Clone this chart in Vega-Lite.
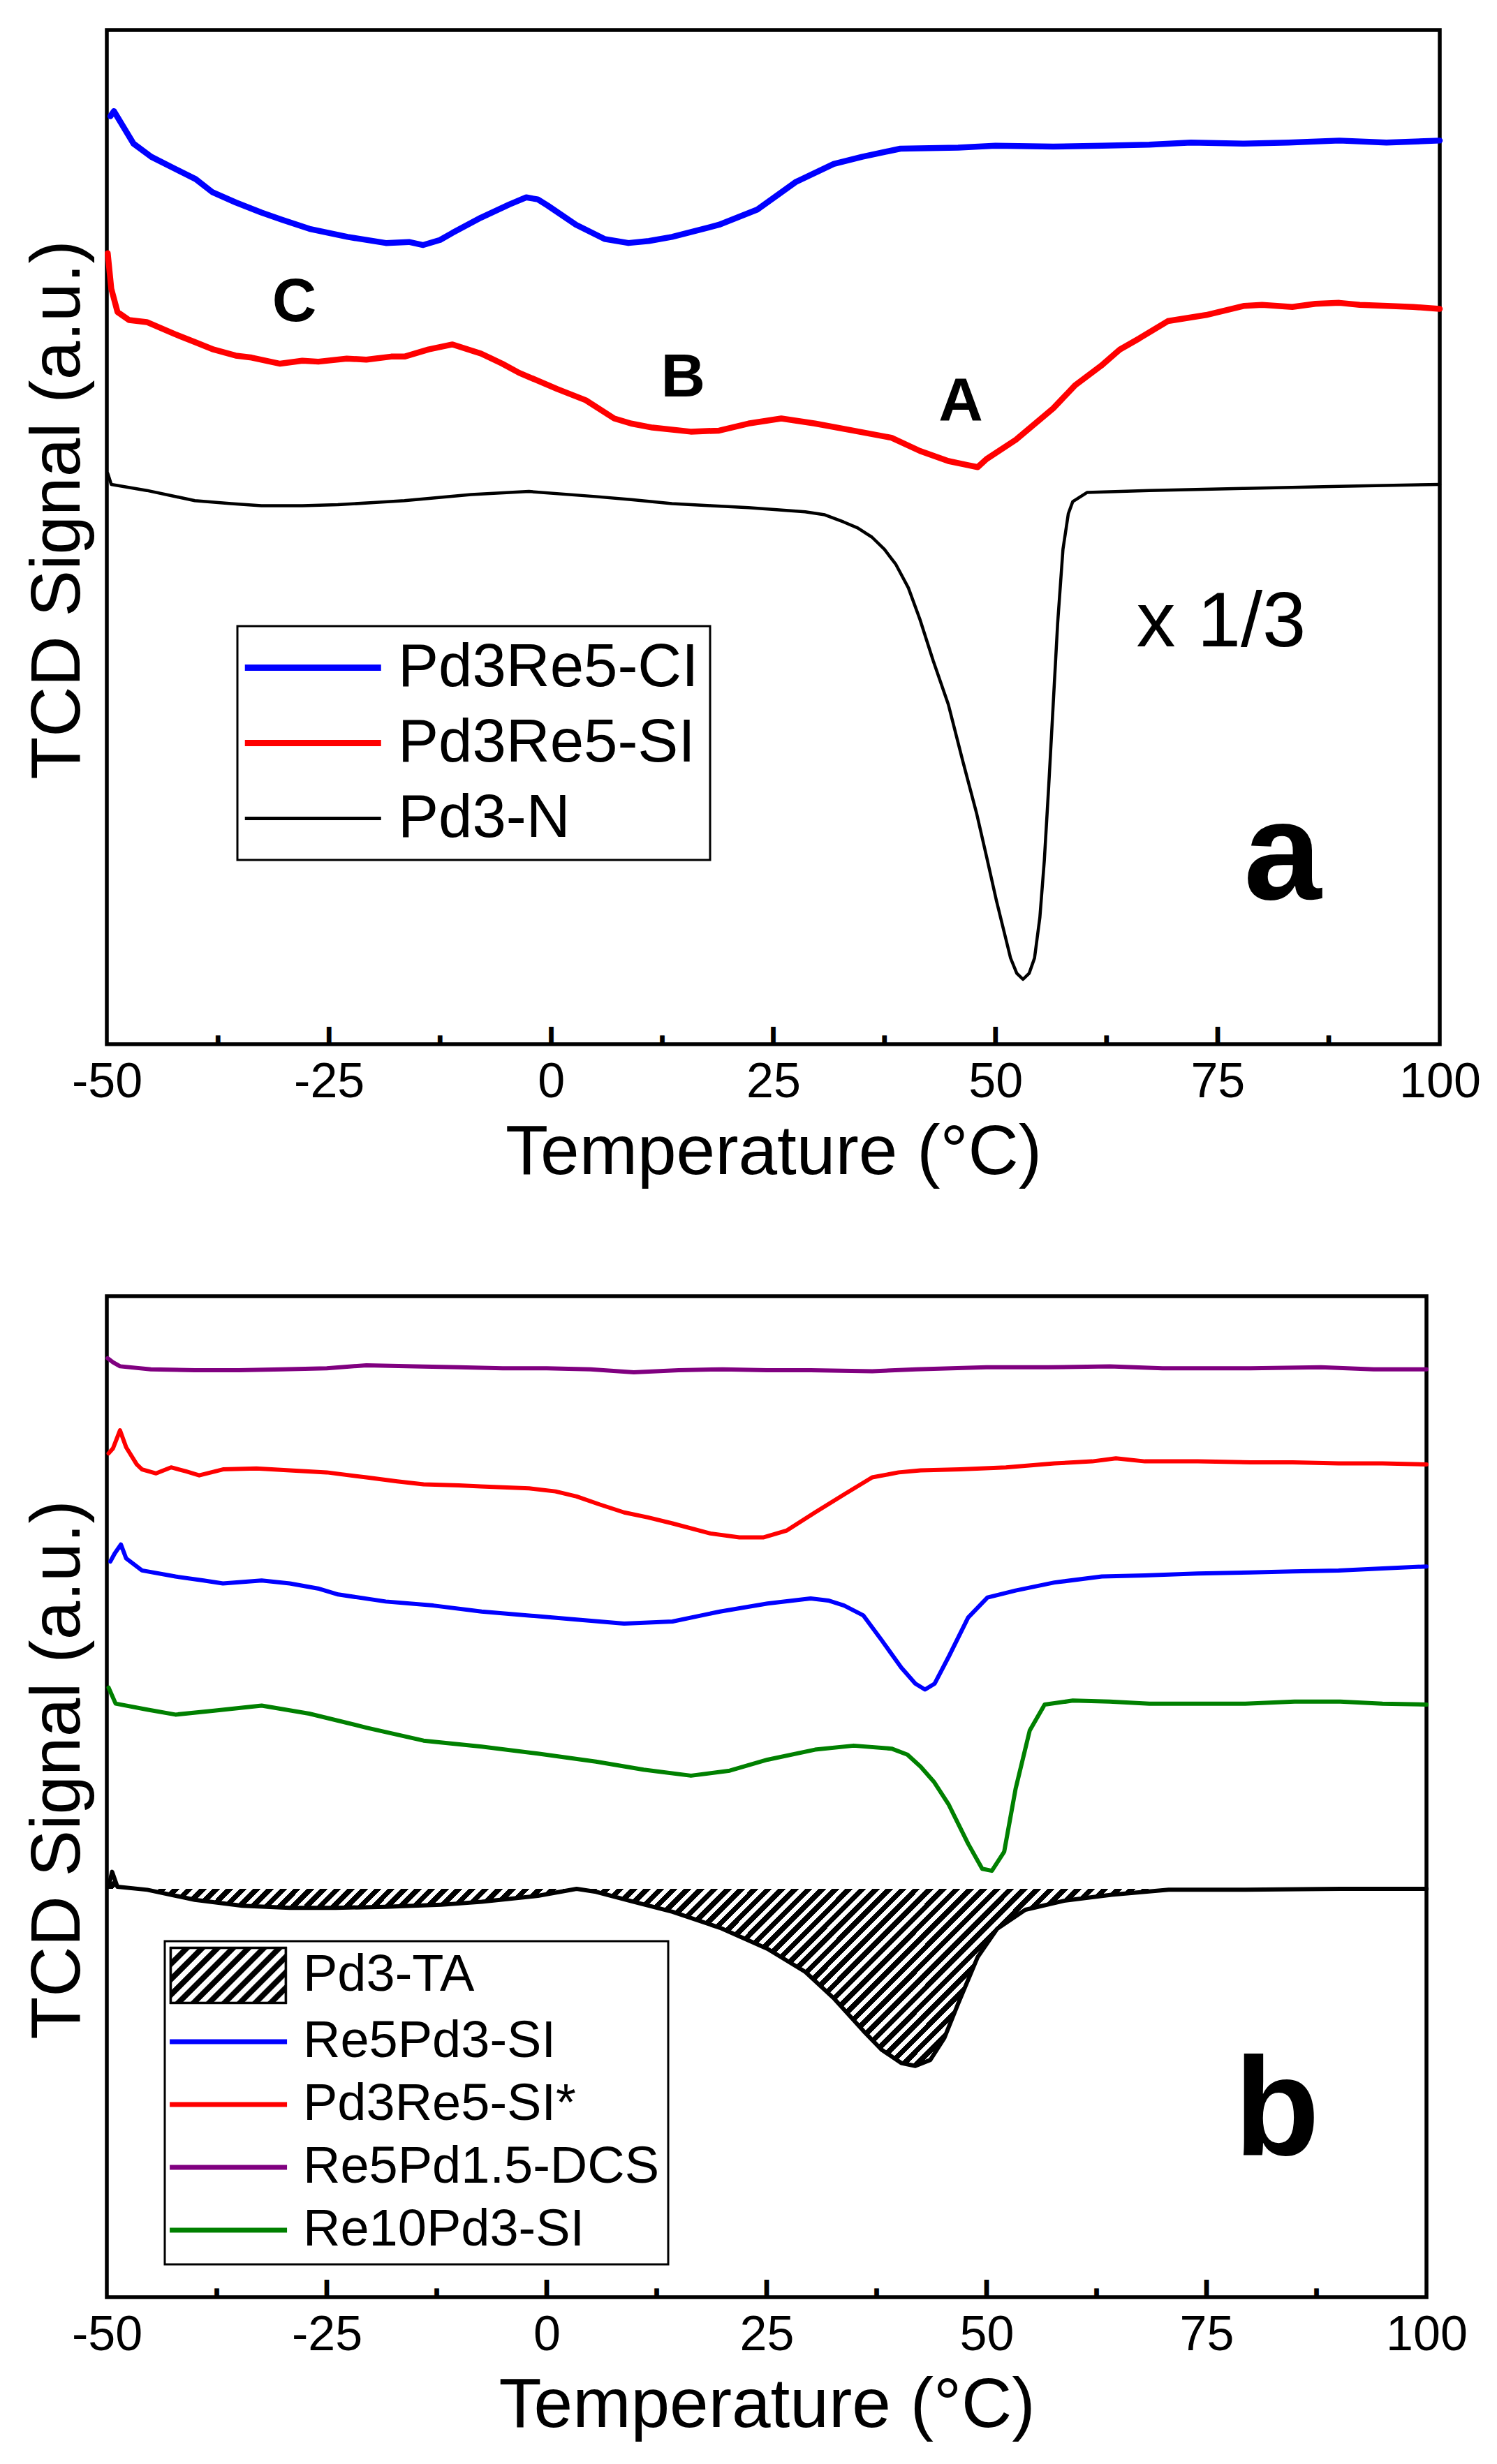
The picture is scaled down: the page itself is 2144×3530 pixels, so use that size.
{
  "$schema": "https://vega.github.io/schema/vega-lite/v6.json",
  "background": "white",
  "padding": {"left": 30, "top": 40, "right": 10, "bottom": 10},
  "config": {
    "font": "Liberation Sans",
    "view": {"stroke": "black", "strokeWidth": 5.5},
    "axis": {"labelFont": "Liberation Sans", "titleFont": "Liberation Sans", "labelColor": "black", "titleColor": "black", "titleFontWeight": "normal", "grid": false, "tickColor": "black"},
    "legend": {"labelFont": "Liberation Sans", "labelColor": "black"},
    "text": {"font": "Liberation Sans", "color": "black"}
  },
  "spacing": 150,
  "resolve": {"scale": {"color": "independent", "x": "independent", "y": "independent"}},
  "datasets": {
    "a_lines": [
      {"series":"Pd3Re5-CI","T":-49.6,"v":91.5},{"series":"Pd3Re5-CI","T":-49.2,"v":92.0},{"series":"Pd3Re5-CI","T":-48.1,"v":90.4},{"series":"Pd3Re5-CI","T":-47.0,"v":88.8},{"series":"Pd3Re5-CI","T":-45.0,"v":87.5},{"series":"Pd3Re5-CI","T":-42.3,"v":86.3},{"series":"Pd3Re5-CI","T":-40.0,"v":85.3},{"series":"Pd3Re5-CI","T":-38.1,"v":84.0},{"series":"Pd3Re5-CI","T":-35.5,"v":83.0},{"series":"Pd3Re5-CI","T":-32.6,"v":82.0},{"series":"Pd3Re5-CI","T":-30.3,"v":81.3},{"series":"Pd3Re5-CI","T":-27.2,"v":80.4},{"series":"Pd3Re5-CI","T":-22.9,"v":79.6},{"series":"Pd3Re5-CI","T":-18.6,"v":79.0},{"series":"Pd3Re5-CI","T":-16.0,"v":79.1},{"series":"Pd3Re5-CI","T":-14.4,"v":78.8},{"series":"Pd3Re5-CI","T":-12.5,"v":79.3},{"series":"Pd3Re5-CI","T":-11.1,"v":80.0},{"series":"Pd3Re5-CI","T":-7.9,"v":81.5},{"series":"Pd3Re5-CI","T":-4.7,"v":82.8},{"series":"Pd3Re5-CI","T":-2.8,"v":83.5},{"series":"Pd3Re5-CI","T":-1.5,"v":83.3},{"series":"Pd3Re5-CI","T":-0.4,"v":82.7},{"series":"Pd3Re5-CI","T":2.8,"v":80.8},{"series":"Pd3Re5-CI","T":6.0,"v":79.4},{"series":"Pd3Re5-CI","T":8.7,"v":79.0},{"series":"Pd3Re5-CI","T":11.0,"v":79.2},{"series":"Pd3Re5-CI","T":13.6,"v":79.6},{"series":"Pd3Re5-CI","T":18.9,"v":80.8},{"series":"Pd3Re5-CI","T":23.2,"v":82.3},{"series":"Pd3Re5-CI","T":27.5,"v":85.0},{"series":"Pd3Re5-CI","T":31.8,"v":86.8},{"series":"Pd3Re5-CI","T":35.0,"v":87.5},{"series":"Pd3Re5-CI","T":39.3,"v":88.3},{"series":"Pd3Re5-CI","T":45.8,"v":88.4},{"series":"Pd3Re5-CI","T":50.0,"v":88.6},{"series":"Pd3Re5-CI","T":56.5,"v":88.5},{"series":"Pd3Re5-CI","T":62.0,"v":88.6},{"series":"Pd3Re5-CI","T":67.3,"v":88.7},{"series":"Pd3Re5-CI","T":72.0,"v":88.9},{"series":"Pd3Re5-CI","T":78.0,"v":88.8},{"series":"Pd3Re5-CI","T":83.0,"v":88.9},{"series":"Pd3Re5-CI","T":88.7,"v":89.1},{"series":"Pd3Re5-CI","T":94.0,"v":88.9},{"series":"Pd3Re5-CI","T":100.0,"v":89.1},
      {"series":"Pd3Re5-SI","T":-49.9,"v":78.0},{"series":"Pd3Re5-SI","T":-49.5,"v":74.5},{"series":"Pd3Re5-SI","T":-48.8,"v":72.2},{"series":"Pd3Re5-SI","T":-47.5,"v":71.4},{"series":"Pd3Re5-SI","T":-45.5,"v":71.2},{"series":"Pd3Re5-SI","T":-42.3,"v":70.0},{"series":"Pd3Re5-SI","T":-40.0,"v":69.2},{"series":"Pd3Re5-SI","T":-38.0,"v":68.5},{"series":"Pd3Re5-SI","T":-35.5,"v":67.9},{"series":"Pd3Re5-SI","T":-33.7,"v":67.7},{"series":"Pd3Re5-SI","T":-30.5,"v":67.1},{"series":"Pd3Re5-SI","T":-28.0,"v":67.4},{"series":"Pd3Re5-SI","T":-26.2,"v":67.3},{"series":"Pd3Re5-SI","T":-23.0,"v":67.6},{"series":"Pd3Re5-SI","T":-20.8,"v":67.5},{"series":"Pd3Re5-SI","T":-18.0,"v":67.8},{"series":"Pd3Re5-SI","T":-16.5,"v":67.8},{"series":"Pd3Re5-SI","T":-13.8,"v":68.5},{"series":"Pd3Re5-SI","T":-11.1,"v":69.0},{"series":"Pd3Re5-SI","T":-7.9,"v":68.1},{"series":"Pd3Re5-SI","T":-5.5,"v":67.1},{"series":"Pd3Re5-SI","T":-3.6,"v":66.2},{"series":"Pd3Re5-SI","T":0.7,"v":64.6},{"series":"Pd3Re5-SI","T":3.9,"v":63.5},{"series":"Pd3Re5-SI","T":7.1,"v":61.7},{"series":"Pd3Re5-SI","T":9.0,"v":61.2},{"series":"Pd3Re5-SI","T":11.4,"v":60.8},{"series":"Pd3Re5-SI","T":15.7,"v":60.4},{"series":"Pd3Re5-SI","T":18.9,"v":60.5},{"series":"Pd3Re5-SI","T":22.2,"v":61.2},{"series":"Pd3Re5-SI","T":25.9,"v":61.7},{"series":"Pd3Re5-SI","T":29.7,"v":61.2},{"series":"Pd3Re5-SI","T":34.0,"v":60.5},{"series":"Pd3Re5-SI","T":38.3,"v":59.8},{"series":"Pd3Re5-SI","T":41.5,"v":58.5},{"series":"Pd3Re5-SI","T":44.7,"v":57.5},{"series":"Pd3Re5-SI","T":46.9,"v":57.1},{"series":"Pd3Re5-SI","T":48.0,"v":56.9},{"series":"Pd3Re5-SI","T":49.0,"v":57.7},{"series":"Pd3Re5-SI","T":52.3,"v":59.6},{"series":"Pd3Re5-SI","T":56.5,"v":62.7},{"series":"Pd3Re5-SI","T":59.0,"v":65.0},{"series":"Pd3Re5-SI","T":61.9,"v":66.9},{"series":"Pd3Re5-SI","T":64.0,"v":68.5},{"series":"Pd3Re5-SI","T":66.2,"v":69.6},{"series":"Pd3Re5-SI","T":69.4,"v":71.3},{"series":"Pd3Re5-SI","T":73.7,"v":71.9},{"series":"Pd3Re5-SI","T":78.0,"v":72.8},{"series":"Pd3Re5-SI","T":80.0,"v":72.9},{"series":"Pd3Re5-SI","T":83.4,"v":72.7},{"series":"Pd3Re5-SI","T":86.0,"v":73.0},{"series":"Pd3Re5-SI","T":88.7,"v":73.1},{"series":"Pd3Re5-SI","T":91.0,"v":72.9},{"series":"Pd3Re5-SI","T":94.1,"v":72.8},{"series":"Pd3Re5-SI","T":97.0,"v":72.7},{"series":"Pd3Re5-SI","T":100.0,"v":72.5},
      {"series":"Pd3-N","T":-49.9,"v":56.3},{"series":"Pd3-N","T":-49.5,"v":55.2},{"series":"Pd3-N","T":-45.5,"v":54.6},{"series":"Pd3-N","T":-40.1,"v":53.6},{"series":"Pd3-N","T":-36.0,"v":53.3},{"series":"Pd3-N","T":-32.6,"v":53.1},{"series":"Pd3-N","T":-28.0,"v":53.1},{"series":"Pd3-N","T":-24.0,"v":53.2},{"series":"Pd3-N","T":-20.0,"v":53.4},{"series":"Pd3-N","T":-16.5,"v":53.6},{"series":"Pd3-N","T":-9.0,"v":54.2},{"series":"Pd3-N","T":-2.5,"v":54.5},{"series":"Pd3-N","T":5.0,"v":54.0},{"series":"Pd3-N","T":9.0,"v":53.7},{"series":"Pd3-N","T":13.6,"v":53.3},{"series":"Pd3-N","T":18.0,"v":53.1},{"series":"Pd3-N","T":22.2,"v":52.9},{"series":"Pd3-N","T":28.6,"v":52.5},{"series":"Pd3-N","T":30.8,"v":52.2},{"series":"Pd3-N","T":32.9,"v":51.5},{"series":"Pd3-N","T":34.5,"v":50.9},{"series":"Pd3-N","T":36.1,"v":50.0},{"series":"Pd3-N","T":37.5,"v":48.8},{"series":"Pd3-N","T":38.8,"v":47.3},{"series":"Pd3-N","T":40.2,"v":45.0},{"series":"Pd3-N","T":41.5,"v":41.9},{"series":"Pd3-N","T":43.0,"v":37.8},{"series":"Pd3-N","T":44.7,"v":33.5},{"series":"Pd3-N","T":46.3,"v":28.0},{"series":"Pd3-N","T":47.9,"v":22.7},{"series":"Pd3-N","T":49.0,"v":18.5},{"series":"Pd3-N","T":50.1,"v":14.2},{"series":"Pd3-N","T":51.0,"v":11.0},{"series":"Pd3-N","T":51.7,"v":8.5},{"series":"Pd3-N","T":52.4,"v":7.0},{"series":"Pd3-N","T":53.1,"v":6.4},{"series":"Pd3-N","T":53.8,"v":7.0},{"series":"Pd3-N","T":54.4,"v":8.5},{"series":"Pd3-N","T":55.0,"v":12.5},{"series":"Pd3-N","T":55.5,"v":18.1},{"series":"Pd3-N","T":56.0,"v":25.5},{"series":"Pd3-N","T":56.5,"v":33.5},{"series":"Pd3-N","T":57.0,"v":41.5},{"series":"Pd3-N","T":57.6,"v":48.8},{"series":"Pd3-N","T":58.2,"v":52.3},{"series":"Pd3-N","T":58.7,"v":53.5},{"series":"Pd3-N","T":60.3,"v":54.4},{"series":"Pd3-N","T":67.3,"v":54.6},{"series":"Pd3-N","T":78.0,"v":54.8},{"series":"Pd3-N","T":88.7,"v":55.0},{"series":"Pd3-N","T":100.0,"v":55.2}
    ],
    "a_peaks": [{"T":-28.9,"v":71.3,"label":"C"},{"T":14.85,"v":63.9,"label":"B"},{"T":46.1,"v":61.5,"label":"A"}],
    "a_scale": [{"T":75.4,"v":39.2,"label":"x 1/3"}],
    "a_tag": [{"T":82.3,"v":14.3,"label":"a"}],
    "axis_major": [{"T":-25,"v":0},{"T":0,"v":0},{"T":25,"v":0},{"T":50,"v":0},{"T":75,"v":0}],
    "axis_minor": [{"T":-37.5,"v":0},{"T":-12.5,"v":0},{"T":12.5,"v":0},{"T":37.5,"v":0},{"T":62.5,"v":0},{"T":87.5,"v":0}],
    "b_area": [
      {"T":-49.8,"v":41.0,"base":40.8},{"T":-49.4,"v":42.5,"base":40.8},{"T":-48.8,"v":41.0,"base":40.8},{"T":-45.4,"v":40.7,"base":40.8},{"T":-40.0,"v":39.7,"base":40.8},{"T":-34.6,"v":39.1,"base":40.8},{"T":-29.2,"v":38.9,"base":40.8},{"T":-24.0,"v":38.9,"base":40.8},{"T":-18.3,"v":39.0,"base":40.8},{"T":-12.0,"v":39.2,"base":40.8},{"T":-7.4,"v":39.5,"base":40.8},{"T":-1.0,"v":40.1,"base":40.8},{"T":3.4,"v":40.8,"base":40.8},{"T":5.6,"v":40.5,"base":40.8},{"T":9.9,"v":39.5,"base":40.8},{"T":14.3,"v":38.5,"base":40.8},{"T":19.7,"v":36.9,"base":40.8},{"T":25.1,"v":34.8,"base":40.8},{"T":29.4,"v":32.5,"base":40.8},{"T":32.7,"v":29.8,"base":40.8},{"T":36.0,"v":26.6,"base":40.8},{"T":38.1,"v":24.7,"base":40.8},{"T":40.3,"v":23.4,"base":40.8},{"T":41.9,"v":23.1,"base":40.8},{"T":43.6,"v":23.7,"base":40.8},{"T":45.2,"v":25.9,"base":40.8},{"T":46.8,"v":29.4,"base":40.8},{"T":49.0,"v":34.0,"base":40.8},{"T":51.2,"v":36.8,"base":40.8},{"T":54.4,"v":38.7,"base":40.8},{"T":58.8,"v":39.6,"base":40.8},{"T":64.2,"v":40.2,"base":40.8},{"T":70.7,"v":40.7,"base":40.8},{"T":79.4,"v":40.7,"base":40.8},{"T":90.2,"v":40.8,"base":40.8},{"T":100.0,"v":40.8,"base":40.8}
    ],
    "b_lines": [
      {"series":"Pd3-TA","T":-49.8,"v":41.0},{"series":"Pd3-TA","T":-49.4,"v":42.5},{"series":"Pd3-TA","T":-48.8,"v":41.0},{"series":"Pd3-TA","T":-45.4,"v":40.7},{"series":"Pd3-TA","T":-40.0,"v":39.7},{"series":"Pd3-TA","T":-34.6,"v":39.1},{"series":"Pd3-TA","T":-29.2,"v":38.9},{"series":"Pd3-TA","T":-24.0,"v":38.9},{"series":"Pd3-TA","T":-18.3,"v":39.0},{"series":"Pd3-TA","T":-12.0,"v":39.2},{"series":"Pd3-TA","T":-7.4,"v":39.5},{"series":"Pd3-TA","T":-1.0,"v":40.1},{"series":"Pd3-TA","T":3.4,"v":40.8},{"series":"Pd3-TA","T":5.6,"v":40.5},{"series":"Pd3-TA","T":9.9,"v":39.5},{"series":"Pd3-TA","T":14.3,"v":38.5},{"series":"Pd3-TA","T":19.7,"v":36.9},{"series":"Pd3-TA","T":25.1,"v":34.8},{"series":"Pd3-TA","T":29.4,"v":32.5},{"series":"Pd3-TA","T":32.7,"v":29.8},{"series":"Pd3-TA","T":36.0,"v":26.6},{"series":"Pd3-TA","T":38.1,"v":24.7},{"series":"Pd3-TA","T":40.3,"v":23.4},{"series":"Pd3-TA","T":41.9,"v":23.1},{"series":"Pd3-TA","T":43.6,"v":23.7},{"series":"Pd3-TA","T":45.2,"v":25.9},{"series":"Pd3-TA","T":46.8,"v":29.4},{"series":"Pd3-TA","T":49.0,"v":34.0},{"series":"Pd3-TA","T":51.2,"v":36.8},{"series":"Pd3-TA","T":54.4,"v":38.7},{"series":"Pd3-TA","T":58.8,"v":39.6},{"series":"Pd3-TA","T":64.2,"v":40.2},{"series":"Pd3-TA","T":70.7,"v":40.7},{"series":"Pd3-TA","T":79.4,"v":40.7},{"series":"Pd3-TA","T":90.2,"v":40.8},{"series":"Pd3-TA","T":100.0,"v":40.8},
      {"series":"Re5Pd3-SI","T":-49.6,"v":73.5},{"series":"Re5Pd3-SI","T":-49.1,"v":74.3},{"series":"Re5Pd3-SI","T":-48.4,"v":75.2},{"series":"Re5Pd3-SI","T":-47.8,"v":73.8},{"series":"Re5Pd3-SI","T":-46.0,"v":72.6},{"series":"Re5Pd3-SI","T":-42.2,"v":72.0},{"series":"Re5Pd3-SI","T":-39.0,"v":71.6},{"series":"Re5Pd3-SI","T":-36.8,"v":71.3},{"series":"Re5Pd3-SI","T":-32.4,"v":71.6},{"series":"Re5Pd3-SI","T":-29.2,"v":71.3},{"series":"Re5Pd3-SI","T":-26.0,"v":70.8},{"series":"Re5Pd3-SI","T":-23.7,"v":70.2},{"series":"Re5Pd3-SI","T":-18.3,"v":69.5},{"series":"Re5Pd3-SI","T":-12.9,"v":69.1},{"series":"Re5Pd3-SI","T":-7.4,"v":68.5},{"series":"Re5Pd3-SI","T":-2.0,"v":68.1},{"series":"Re5Pd3-SI","T":3.4,"v":67.7},{"series":"Re5Pd3-SI","T":8.8,"v":67.3},{"series":"Re5Pd3-SI","T":14.3,"v":67.5},{"series":"Re5Pd3-SI","T":19.7,"v":68.5},{"series":"Re5Pd3-SI","T":25.1,"v":69.3},{"series":"Re5Pd3-SI","T":30.0,"v":69.8},{"series":"Re5Pd3-SI","T":32.0,"v":69.6},{"series":"Re5Pd3-SI","T":33.8,"v":69.1},{"series":"Re5Pd3-SI","T":36.0,"v":68.1},{"series":"Re5Pd3-SI","T":38.1,"v":65.6},{"series":"Re5Pd3-SI","T":40.3,"v":62.9},{"series":"Re5Pd3-SI","T":41.9,"v":61.3},{"series":"Re5Pd3-SI","T":43.0,"v":60.7},{"series":"Re5Pd3-SI","T":44.1,"v":61.3},{"series":"Re5Pd3-SI","T":45.7,"v":64.0},{"series":"Re5Pd3-SI","T":47.9,"v":67.9},{"series":"Re5Pd3-SI","T":50.1,"v":69.9},{"series":"Re5Pd3-SI","T":53.3,"v":70.6},{"series":"Re5Pd3-SI","T":57.7,"v":71.4},{"series":"Re5Pd3-SI","T":63.1,"v":72.0},{"series":"Re5Pd3-SI","T":68.0,"v":72.1},{"series":"Re5Pd3-SI","T":74.0,"v":72.3},{"series":"Re5Pd3-SI","T":80.0,"v":72.4},{"series":"Re5Pd3-SI","T":84.8,"v":72.5},{"series":"Re5Pd3-SI","T":90.0,"v":72.6},{"series":"Re5Pd3-SI","T":95.0,"v":72.8},{"series":"Re5Pd3-SI","T":100.0,"v":73.0},
      {"series":"Pd3Re5-SI*","T":-49.8,"v":84.3},{"series":"Pd3Re5-SI*","T":-49.3,"v":84.8},{"series":"Pd3Re5-SI*","T":-48.5,"v":86.6},{"series":"Pd3Re5-SI*","T":-47.8,"v":84.9},{"series":"Pd3Re5-SI*","T":-46.6,"v":83.2},{"series":"Pd3Re5-SI*","T":-46.0,"v":82.7},{"series":"Pd3Re5-SI*","T":-44.4,"v":82.3},{"series":"Pd3Re5-SI*","T":-42.7,"v":82.9},{"series":"Pd3Re5-SI*","T":-41.0,"v":82.5},{"series":"Pd3Re5-SI*","T":-39.5,"v":82.1},{"series":"Pd3Re5-SI*","T":-36.8,"v":82.7},{"series":"Pd3Re5-SI*","T":-33.0,"v":82.8},{"series":"Pd3Re5-SI*","T":-29.2,"v":82.6},{"series":"Pd3Re5-SI*","T":-25.0,"v":82.4},{"series":"Pd3Re5-SI*","T":-20.5,"v":81.9},{"series":"Pd3Re5-SI*","T":-17.0,"v":81.5},{"series":"Pd3Re5-SI*","T":-14.0,"v":81.2},{"series":"Pd3Re5-SI*","T":-10.0,"v":81.1},{"series":"Pd3Re5-SI*","T":-7.5,"v":81.0},{"series":"Pd3Re5-SI*","T":-2.0,"v":80.8},{"series":"Pd3Re5-SI*","T":1.0,"v":80.5},{"series":"Pd3Re5-SI*","T":3.4,"v":80.0},{"series":"Pd3Re5-SI*","T":6.0,"v":79.2},{"series":"Pd3Re5-SI*","T":8.8,"v":78.4},{"series":"Pd3Re5-SI*","T":11.5,"v":77.9},{"series":"Pd3Re5-SI*","T":14.3,"v":77.3},{"series":"Pd3Re5-SI*","T":18.6,"v":76.3},{"series":"Pd3Re5-SI*","T":21.9,"v":75.9},{"series":"Pd3Re5-SI*","T":24.6,"v":75.9},{"series":"Pd3Re5-SI*","T":27.3,"v":76.6},{"series":"Pd3Re5-SI*","T":30.5,"v":78.4},{"series":"Pd3Re5-SI*","T":33.8,"v":80.2},{"series":"Pd3Re5-SI*","T":37.0,"v":81.9},{"series":"Pd3Re5-SI*","T":40.0,"v":82.4},{"series":"Pd3Re5-SI*","T":42.5,"v":82.6},{"series":"Pd3Re5-SI*","T":47.0,"v":82.7},{"series":"Pd3Re5-SI*","T":52.2,"v":82.9},{"series":"Pd3Re5-SI*","T":57.7,"v":83.3},{"series":"Pd3Re5-SI*","T":62.0,"v":83.5},{"series":"Pd3Re5-SI*","T":64.7,"v":83.8},{"series":"Pd3Re5-SI*","T":68.0,"v":83.5},{"series":"Pd3Re5-SI*","T":74.0,"v":83.5},{"series":"Pd3Re5-SI*","T":80.0,"v":83.4},{"series":"Pd3Re5-SI*","T":84.8,"v":83.4},{"series":"Pd3Re5-SI*","T":90.0,"v":83.3},{"series":"Pd3Re5-SI*","T":95.0,"v":83.3},{"series":"Pd3Re5-SI*","T":100.0,"v":83.2},
      {"series":"Re5Pd1.5-DCS","T":-49.9,"v":93.8},{"series":"Re5Pd1.5-DCS","T":-49.3,"v":93.4},{"series":"Re5Pd1.5-DCS","T":-48.5,"v":93.0},{"series":"Re5Pd1.5-DCS","T":-45.0,"v":92.7},{"series":"Re5Pd1.5-DCS","T":-40.0,"v":92.6},{"series":"Re5Pd1.5-DCS","T":-35.0,"v":92.6},{"series":"Re5Pd1.5-DCS","T":-30.0,"v":92.7},{"series":"Re5Pd1.5-DCS","T":-25.0,"v":92.8},{"series":"Re5Pd1.5-DCS","T":-20.5,"v":93.1},{"series":"Re5Pd1.5-DCS","T":-15.0,"v":93.0},{"series":"Re5Pd1.5-DCS","T":-10.0,"v":92.9},{"series":"Re5Pd1.5-DCS","T":-5.0,"v":92.8},{"series":"Re5Pd1.5-DCS","T":0.0,"v":92.8},{"series":"Re5Pd1.5-DCS","T":5.0,"v":92.7},{"series":"Re5Pd1.5-DCS","T":9.9,"v":92.4},{"series":"Re5Pd1.5-DCS","T":15.0,"v":92.6},{"series":"Re5Pd1.5-DCS","T":20.0,"v":92.7},{"series":"Re5Pd1.5-DCS","T":25.0,"v":92.6},{"series":"Re5Pd1.5-DCS","T":30.0,"v":92.6},{"series":"Re5Pd1.5-DCS","T":37.0,"v":92.5},{"series":"Re5Pd1.5-DCS","T":42.0,"v":92.7},{"series":"Re5Pd1.5-DCS","T":50.0,"v":92.9},{"series":"Re5Pd1.5-DCS","T":57.0,"v":92.9},{"series":"Re5Pd1.5-DCS","T":64.0,"v":93.0},{"series":"Re5Pd1.5-DCS","T":70.0,"v":92.8},{"series":"Re5Pd1.5-DCS","T":75.0,"v":92.8},{"series":"Re5Pd1.5-DCS","T":80.0,"v":92.8},{"series":"Re5Pd1.5-DCS","T":88.0,"v":92.9},{"series":"Re5Pd1.5-DCS","T":94.0,"v":92.7},{"series":"Re5Pd1.5-DCS","T":100.0,"v":92.7},
      {"series":"Re10Pd3-SI","T":-49.8,"v":60.9},{"series":"Re10Pd3-SI","T":-49.0,"v":59.3},{"series":"Re10Pd3-SI","T":-45.4,"v":58.7},{"series":"Re10Pd3-SI","T":-42.2,"v":58.2},{"series":"Re10Pd3-SI","T":-37.8,"v":58.6},{"series":"Re10Pd3-SI","T":-32.4,"v":59.1},{"series":"Re10Pd3-SI","T":-27.0,"v":58.3},{"series":"Re10Pd3-SI","T":-20.5,"v":56.9},{"series":"Re10Pd3-SI","T":-14.0,"v":55.6},{"series":"Re10Pd3-SI","T":-7.4,"v":55.0},{"series":"Re10Pd3-SI","T":-1.0,"v":54.3},{"series":"Re10Pd3-SI","T":5.6,"v":53.5},{"series":"Re10Pd3-SI","T":11.0,"v":52.7},{"series":"Re10Pd3-SI","T":16.4,"v":52.1},{"series":"Re10Pd3-SI","T":20.8,"v":52.6},{"series":"Re10Pd3-SI","T":25.1,"v":53.7},{"series":"Re10Pd3-SI","T":30.5,"v":54.7},{"series":"Re10Pd3-SI","T":34.9,"v":55.1},{"series":"Re10Pd3-SI","T":39.2,"v":54.8},{"series":"Re10Pd3-SI","T":41.0,"v":54.2},{"series":"Re10Pd3-SI","T":42.5,"v":53.0},{"series":"Re10Pd3-SI","T":44.0,"v":51.5},{"series":"Re10Pd3-SI","T":45.7,"v":49.2},{"series":"Re10Pd3-SI","T":47.9,"v":45.3},{"series":"Re10Pd3-SI","T":49.5,"v":42.8},{"series":"Re10Pd3-SI","T":50.6,"v":42.6},{"series":"Re10Pd3-SI","T":52.0,"v":44.5},{"series":"Re10Pd3-SI","T":53.3,"v":50.8},{"series":"Re10Pd3-SI","T":54.9,"v":56.6},{"series":"Re10Pd3-SI","T":56.6,"v":59.2},{"series":"Re10Pd3-SI","T":59.8,"v":59.6},{"series":"Re10Pd3-SI","T":64.0,"v":59.5},{"series":"Re10Pd3-SI","T":68.5,"v":59.3},{"series":"Re10Pd3-SI","T":74.0,"v":59.3},{"series":"Re10Pd3-SI","T":79.4,"v":59.3},{"series":"Re10Pd3-SI","T":85.0,"v":59.5},{"series":"Re10Pd3-SI","T":90.2,"v":59.5},{"series":"Re10Pd3-SI","T":95.0,"v":59.3},{"series":"Re10Pd3-SI","T":100.0,"v":59.2}
    ],
    "b_tag": [{"T":83.0,"v":14.2,"label":"b"}]
  },
  "vconcat": [
    {
      "width": 1909,
      "height": 1453,
      "layer": [
        {
          "data": {"name": "a_lines"},
          "mark": {"type": "line", "strokeJoin": "round", "strokeCap": "round"},
          "encoding": {
            "x": {"field": "T", "type": "quantitative", "scale": {"domain": [-50, 100], "nice": false, "zero": false},
                  "axis": {"orient": "bottom", "values": [-50, -25, 0, 25, 50, 75, 100], "ticks": false, "tickSize": 0, "domain": false, "labelFontSize": 70, "labelPadding": 20, "labelFlush": false, "labelOverlap": false, "labelExpr": "replace(datum.label, '\u2212', '-')", "title": "Temperature (°C)", "titleFontSize": 100, "titlePadding": 17}},
            "y": {"field": "v", "type": "quantitative", "scale": {"domain": [0, 100], "nice": false, "zero": false},
                  "axis": {"title": "TCD Signal (a.u.)", "titleFontSize": 100, "titlePadding": 19, "titleY": 687, "ticks": false, "labels": false, "domain": false, "grid": false}},
            "color": {"field": "series", "type": "nominal",
                      "scale": {"domain": ["Pd3Re5-CI", "Pd3Re5-SI", "Pd3-N"], "range": ["#0000ff", "#ff0000", "#000000"]},
                      "legend": {"title": null, "orient": "none", "legendX": 187, "legendY": 854, "padding": 16, "strokeColor": "black", "fillColor": "white", "labelFontSize": 87, "labelLimit": 2000, "symbolType": "M-1.5,0H4.5", "symbolSize": 4225, "labelOffset": 127, "rowPadding": 20,
                                 "encode": {"legend": {"update": {"strokeWidth": {"value": 3}}}, "symbols": {"update": {"strokeWidth": {"signal": "datum.value === 'Pd3-N' ? 5 : 9"}}}}}},
            "strokeWidth": {"condition": {"test": "datum.series === 'Pd3-N'", "value": 4.5}, "value": 8.5}
          }
        },
        {
          "data": {"name": "axis_major"},
          "mark": {"type": "text", "font": "DejaVu Sans Mono", "fontSize": 21.5, "align": "left", "dx": -3.2, "baseline": "bottom", "color": "black"},
          "encoding": {
            "x": {"field": "T", "type": "quantitative", "scale": {"domain": [-50, 100], "nice": false, "zero": false}, "axis": null},
            "y": {"field": "v", "type": "quantitative", "scale": {"domain": [0, 100], "nice": false, "zero": false},
                  "axis": {"title": "TCD Signal (a.u.)", "titleFontSize": 100, "titlePadding": 19, "titleY": 687, "ticks": false, "labels": false, "domain": false, "grid": false}},
            "text": {"value": "\u258c"}
          }
        },
        {
          "data": {"name": "axis_minor"},
          "mark": {"type": "text", "font": "DejaVu Sans Mono", "fontSize": 21.5, "align": "left", "dx": -3.2, "baseline": "bottom", "color": "black"},
          "encoding": {
            "x": {"field": "T", "type": "quantitative", "scale": {"domain": [-50, 100], "nice": false, "zero": false}, "axis": null},
            "y": {"field": "v", "type": "quantitative", "scale": {"domain": [0, 100], "nice": false, "zero": false},
                  "axis": {"title": "TCD Signal (a.u.)", "titleFontSize": 100, "titlePadding": 19, "titleY": 687, "ticks": false, "labels": false, "domain": false, "grid": false}},
            "text": {"value": "\u2596"}
          }
        },
        {
          "data": {"name": "a_peaks"},
          "mark": {"type": "text", "fontSize": 88, "fontWeight": "bold", "align": "center", "baseline": "alphabetic"},
          "encoding": {
            "x": {"field": "T", "type": "quantitative", "scale": {"domain": [-50, 100], "nice": false, "zero": false}, "axis": null},
            "y": {"field": "v", "type": "quantitative", "scale": {"domain": [0, 100], "nice": false, "zero": false},
                  "axis": {"title": "TCD Signal (a.u.)", "titleFontSize": 100, "titlePadding": 19, "titleY": 687, "ticks": false, "labels": false, "domain": false, "grid": false}},
            "text": {"field": "label"}
          }
        },
        {
          "data": {"name": "a_scale"},
          "mark": {"type": "text", "fontSize": 112, "align": "center", "baseline": "alphabetic"},
          "encoding": {
            "x": {"field": "T", "type": "quantitative", "scale": {"domain": [-50, 100], "nice": false, "zero": false}, "axis": null},
            "y": {"field": "v", "type": "quantitative", "scale": {"domain": [0, 100], "nice": false, "zero": false},
                  "axis": {"title": "TCD Signal (a.u.)", "titleFontSize": 100, "titlePadding": 19, "titleY": 687, "ticks": false, "labels": false, "domain": false, "grid": false}},
            "text": {"field": "label"}
          }
        },
        {
          "data": {"name": "a_tag"},
          "mark": {"type": "text", "fontSize": 200, "fontWeight": "bold", "align": "center", "baseline": "alphabetic"},
          "encoding": {
            "x": {"field": "T", "type": "quantitative", "scale": {"domain": [-50, 100], "nice": false, "zero": false}, "axis": null},
            "y": {"field": "v", "type": "quantitative", "scale": {"domain": [0, 100], "nice": false, "zero": false},
                  "axis": {"title": "TCD Signal (a.u.)", "titleFontSize": 100, "titlePadding": 19, "titleY": 687, "ticks": false, "labels": false, "domain": false, "grid": false}},
            "text": {"field": "label"}
          }
        }
      ],
      "resolve": {"axis": {"x": "independent"}}
    },
    {
      "width": 1890,
      "height": 1434,
      "layer": [
        {
          "data": {"name": "b_area"},
          "mark": {"type": "area", "fill": {"gradient": "linear", "x1": 0, "y1": 0, "x2": 1, "y2": 0.147, "stops": [
            {"offset":0,"color":"#000"},{"offset":0.0055,"color":"#000"},{"offset":0.0055,"color":"#fff"},{"offset":0.01,"color":"#fff"},
            {"offset":0.01,"color":"#000"},{"offset":0.0155,"color":"#000"},{"offset":0.0155,"color":"#fff"},{"offset":0.02,"color":"#fff"},
            {"offset":0.02,"color":"#000"},{"offset":0.0255,"color":"#000"},{"offset":0.0255,"color":"#fff"},{"offset":0.03,"color":"#fff"},
            {"offset":0.03,"color":"#000"},{"offset":0.0355,"color":"#000"},{"offset":0.0355,"color":"#fff"},{"offset":0.04,"color":"#fff"},
            {"offset":0.04,"color":"#000"},{"offset":0.0455,"color":"#000"},{"offset":0.0455,"color":"#fff"},{"offset":0.05,"color":"#fff"},
            {"offset":0.05,"color":"#000"},{"offset":0.0555,"color":"#000"},{"offset":0.0555,"color":"#fff"},{"offset":0.06,"color":"#fff"},
            {"offset":0.06,"color":"#000"},{"offset":0.0655,"color":"#000"},{"offset":0.0655,"color":"#fff"},{"offset":0.07,"color":"#fff"},
            {"offset":0.07,"color":"#000"},{"offset":0.0755,"color":"#000"},{"offset":0.0755,"color":"#fff"},{"offset":0.08,"color":"#fff"},
            {"offset":0.08,"color":"#000"},{"offset":0.0855,"color":"#000"},{"offset":0.0855,"color":"#fff"},{"offset":0.09,"color":"#fff"},
            {"offset":0.09,"color":"#000"},{"offset":0.0955,"color":"#000"},{"offset":0.0955,"color":"#fff"},{"offset":0.10,"color":"#fff"},
            {"offset":0.10,"color":"#000"},{"offset":0.1055,"color":"#000"},{"offset":0.1055,"color":"#fff"},{"offset":0.11,"color":"#fff"},
            {"offset":0.11,"color":"#000"},{"offset":0.1155,"color":"#000"},{"offset":0.1155,"color":"#fff"},{"offset":0.12,"color":"#fff"},
            {"offset":0.12,"color":"#000"},{"offset":0.1255,"color":"#000"},{"offset":0.1255,"color":"#fff"},{"offset":0.13,"color":"#fff"},
            {"offset":0.13,"color":"#000"},{"offset":0.1355,"color":"#000"},{"offset":0.1355,"color":"#fff"},{"offset":0.14,"color":"#fff"},
            {"offset":0.14,"color":"#000"},{"offset":0.1455,"color":"#000"},{"offset":0.1455,"color":"#fff"},{"offset":0.15,"color":"#fff"},
            {"offset":0.15,"color":"#000"},{"offset":0.1555,"color":"#000"},{"offset":0.1555,"color":"#fff"},{"offset":0.16,"color":"#fff"},
            {"offset":0.16,"color":"#000"},{"offset":0.1655,"color":"#000"},{"offset":0.1655,"color":"#fff"},{"offset":0.17,"color":"#fff"},
            {"offset":0.17,"color":"#000"},{"offset":0.1755,"color":"#000"},{"offset":0.1755,"color":"#fff"},{"offset":0.18,"color":"#fff"},
            {"offset":0.18,"color":"#000"},{"offset":0.1855,"color":"#000"},{"offset":0.1855,"color":"#fff"},{"offset":0.19,"color":"#fff"},
            {"offset":0.19,"color":"#000"},{"offset":0.1955,"color":"#000"},{"offset":0.1955,"color":"#fff"},{"offset":0.20,"color":"#fff"},
            {"offset":0.20,"color":"#000"},{"offset":0.2055,"color":"#000"},{"offset":0.2055,"color":"#fff"},{"offset":0.21,"color":"#fff"},
            {"offset":0.21,"color":"#000"},{"offset":0.2155,"color":"#000"},{"offset":0.2155,"color":"#fff"},{"offset":0.22,"color":"#fff"},
            {"offset":0.22,"color":"#000"},{"offset":0.2255,"color":"#000"},{"offset":0.2255,"color":"#fff"},{"offset":0.23,"color":"#fff"},
            {"offset":0.23,"color":"#000"},{"offset":0.2355,"color":"#000"},{"offset":0.2355,"color":"#fff"},{"offset":0.24,"color":"#fff"},
            {"offset":0.24,"color":"#000"},{"offset":0.2455,"color":"#000"},{"offset":0.2455,"color":"#fff"},{"offset":0.25,"color":"#fff"},
            {"offset":0.25,"color":"#000"},{"offset":0.2555,"color":"#000"},{"offset":0.2555,"color":"#fff"},{"offset":0.26,"color":"#fff"},
            {"offset":0.26,"color":"#000"},{"offset":0.2655,"color":"#000"},{"offset":0.2655,"color":"#fff"},{"offset":0.27,"color":"#fff"},
            {"offset":0.27,"color":"#000"},{"offset":0.2755,"color":"#000"},{"offset":0.2755,"color":"#fff"},{"offset":0.28,"color":"#fff"},
            {"offset":0.28,"color":"#000"},{"offset":0.2855,"color":"#000"},{"offset":0.2855,"color":"#fff"},{"offset":0.29,"color":"#fff"},
            {"offset":0.29,"color":"#000"},{"offset":0.2955,"color":"#000"},{"offset":0.2955,"color":"#fff"},{"offset":0.30,"color":"#fff"},
            {"offset":0.30,"color":"#000"},{"offset":0.3055,"color":"#000"},{"offset":0.3055,"color":"#fff"},{"offset":0.31,"color":"#fff"},
            {"offset":0.31,"color":"#000"},{"offset":0.3155,"color":"#000"},{"offset":0.3155,"color":"#fff"},{"offset":0.32,"color":"#fff"},
            {"offset":0.32,"color":"#000"},{"offset":0.3255,"color":"#000"},{"offset":0.3255,"color":"#fff"},{"offset":0.33,"color":"#fff"},
            {"offset":0.33,"color":"#000"},{"offset":0.3355,"color":"#000"},{"offset":0.3355,"color":"#fff"},{"offset":0.34,"color":"#fff"},
            {"offset":0.34,"color":"#000"},{"offset":0.3455,"color":"#000"},{"offset":0.3455,"color":"#fff"},{"offset":0.35,"color":"#fff"},
            {"offset":0.35,"color":"#000"},{"offset":0.3555,"color":"#000"},{"offset":0.3555,"color":"#fff"},{"offset":0.36,"color":"#fff"},
            {"offset":0.36,"color":"#000"},{"offset":0.3655,"color":"#000"},{"offset":0.3655,"color":"#fff"},{"offset":0.37,"color":"#fff"},
            {"offset":0.37,"color":"#000"},{"offset":0.3755,"color":"#000"},{"offset":0.3755,"color":"#fff"},{"offset":0.38,"color":"#fff"},
            {"offset":0.38,"color":"#000"},{"offset":0.3855,"color":"#000"},{"offset":0.3855,"color":"#fff"},{"offset":0.39,"color":"#fff"},
            {"offset":0.39,"color":"#000"},{"offset":0.3955,"color":"#000"},{"offset":0.3955,"color":"#fff"},{"offset":0.40,"color":"#fff"},
            {"offset":0.40,"color":"#000"},{"offset":0.4055,"color":"#000"},{"offset":0.4055,"color":"#fff"},{"offset":0.41,"color":"#fff"},
            {"offset":0.41,"color":"#000"},{"offset":0.4155,"color":"#000"},{"offset":0.4155,"color":"#fff"},{"offset":0.42,"color":"#fff"},
            {"offset":0.42,"color":"#000"},{"offset":0.4255,"color":"#000"},{"offset":0.4255,"color":"#fff"},{"offset":0.43,"color":"#fff"},
            {"offset":0.43,"color":"#000"},{"offset":0.4355,"color":"#000"},{"offset":0.4355,"color":"#fff"},{"offset":0.44,"color":"#fff"},
            {"offset":0.44,"color":"#000"},{"offset":0.4455,"color":"#000"},{"offset":0.4455,"color":"#fff"},{"offset":0.45,"color":"#fff"},
            {"offset":0.45,"color":"#000"},{"offset":0.4555,"color":"#000"},{"offset":0.4555,"color":"#fff"},{"offset":0.46,"color":"#fff"},
            {"offset":0.46,"color":"#000"},{"offset":0.4655,"color":"#000"},{"offset":0.4655,"color":"#fff"},{"offset":0.47,"color":"#fff"},
            {"offset":0.47,"color":"#000"},{"offset":0.4755,"color":"#000"},{"offset":0.4755,"color":"#fff"},{"offset":0.48,"color":"#fff"},
            {"offset":0.48,"color":"#000"},{"offset":0.4855,"color":"#000"},{"offset":0.4855,"color":"#fff"},{"offset":0.49,"color":"#fff"},
            {"offset":0.49,"color":"#000"},{"offset":0.4955,"color":"#000"},{"offset":0.4955,"color":"#fff"},{"offset":0.50,"color":"#fff"},
            {"offset":0.50,"color":"#000"},{"offset":0.5055,"color":"#000"},{"offset":0.5055,"color":"#fff"},{"offset":0.51,"color":"#fff"},
            {"offset":0.51,"color":"#000"},{"offset":0.5155,"color":"#000"},{"offset":0.5155,"color":"#fff"},{"offset":0.52,"color":"#fff"},
            {"offset":0.52,"color":"#000"},{"offset":0.5255,"color":"#000"},{"offset":0.5255,"color":"#fff"},{"offset":0.53,"color":"#fff"},
            {"offset":0.53,"color":"#000"},{"offset":0.5355,"color":"#000"},{"offset":0.5355,"color":"#fff"},{"offset":0.54,"color":"#fff"},
            {"offset":0.54,"color":"#000"},{"offset":0.5455,"color":"#000"},{"offset":0.5455,"color":"#fff"},{"offset":0.55,"color":"#fff"},
            {"offset":0.55,"color":"#000"},{"offset":0.5555,"color":"#000"},{"offset":0.5555,"color":"#fff"},{"offset":0.56,"color":"#fff"},
            {"offset":0.56,"color":"#000"},{"offset":0.5655,"color":"#000"},{"offset":0.5655,"color":"#fff"},{"offset":0.57,"color":"#fff"},
            {"offset":0.57,"color":"#000"},{"offset":0.5755,"color":"#000"},{"offset":0.5755,"color":"#fff"},{"offset":0.58,"color":"#fff"},
            {"offset":0.58,"color":"#000"},{"offset":0.5855,"color":"#000"},{"offset":0.5855,"color":"#fff"},{"offset":0.59,"color":"#fff"},
            {"offset":0.59,"color":"#000"},{"offset":0.5955,"color":"#000"},{"offset":0.5955,"color":"#fff"},{"offset":0.60,"color":"#fff"},
            {"offset":0.60,"color":"#000"},{"offset":0.6055,"color":"#000"},{"offset":0.6055,"color":"#fff"},{"offset":0.61,"color":"#fff"},
            {"offset":0.61,"color":"#000"},{"offset":0.6155,"color":"#000"},{"offset":0.6155,"color":"#fff"},{"offset":0.62,"color":"#fff"},
            {"offset":0.62,"color":"#000"},{"offset":0.6255,"color":"#000"},{"offset":0.6255,"color":"#fff"},{"offset":0.63,"color":"#fff"},
            {"offset":0.63,"color":"#000"},{"offset":0.6355,"color":"#000"},{"offset":0.6355,"color":"#fff"},{"offset":0.64,"color":"#fff"},
            {"offset":0.64,"color":"#000"},{"offset":0.6455,"color":"#000"},{"offset":0.6455,"color":"#fff"},{"offset":0.65,"color":"#fff"},
            {"offset":0.65,"color":"#000"},{"offset":0.6555,"color":"#000"},{"offset":0.6555,"color":"#fff"},{"offset":0.66,"color":"#fff"},
            {"offset":0.66,"color":"#000"},{"offset":0.6655,"color":"#000"},{"offset":0.6655,"color":"#fff"},{"offset":0.67,"color":"#fff"},
            {"offset":0.67,"color":"#000"},{"offset":0.6755,"color":"#000"},{"offset":0.6755,"color":"#fff"},{"offset":0.68,"color":"#fff"},
            {"offset":0.68,"color":"#000"},{"offset":0.6855,"color":"#000"},{"offset":0.6855,"color":"#fff"},{"offset":0.69,"color":"#fff"},
            {"offset":0.69,"color":"#000"},{"offset":0.6955,"color":"#000"},{"offset":0.6955,"color":"#fff"},{"offset":0.70,"color":"#fff"},
            {"offset":0.70,"color":"#000"},{"offset":0.7055,"color":"#000"},{"offset":0.7055,"color":"#fff"},{"offset":0.71,"color":"#fff"},
            {"offset":0.71,"color":"#000"},{"offset":0.7155,"color":"#000"},{"offset":0.7155,"color":"#fff"},{"offset":0.72,"color":"#fff"},
            {"offset":0.72,"color":"#000"},{"offset":0.7255,"color":"#000"},{"offset":0.7255,"color":"#fff"},{"offset":0.73,"color":"#fff"},
            {"offset":0.73,"color":"#000"},{"offset":0.7355,"color":"#000"},{"offset":0.7355,"color":"#fff"},{"offset":0.74,"color":"#fff"},
            {"offset":0.74,"color":"#000"},{"offset":0.7455,"color":"#000"},{"offset":0.7455,"color":"#fff"},{"offset":0.75,"color":"#fff"},
            {"offset":0.75,"color":"#000"},{"offset":0.7555,"color":"#000"},{"offset":0.7555,"color":"#fff"},{"offset":0.76,"color":"#fff"},
            {"offset":0.76,"color":"#000"},{"offset":0.7655,"color":"#000"},{"offset":0.7655,"color":"#fff"},{"offset":0.77,"color":"#fff"},
            {"offset":0.77,"color":"#000"},{"offset":0.7755,"color":"#000"},{"offset":0.7755,"color":"#fff"},{"offset":0.78,"color":"#fff"},
            {"offset":0.78,"color":"#000"},{"offset":0.7855,"color":"#000"},{"offset":0.7855,"color":"#fff"},{"offset":0.79,"color":"#fff"},
            {"offset":0.79,"color":"#000"},{"offset":0.7955,"color":"#000"},{"offset":0.7955,"color":"#fff"},{"offset":0.80,"color":"#fff"},
            {"offset":0.80,"color":"#000"},{"offset":0.8055,"color":"#000"},{"offset":0.8055,"color":"#fff"},{"offset":0.81,"color":"#fff"},
            {"offset":0.81,"color":"#000"},{"offset":0.8155,"color":"#000"},{"offset":0.8155,"color":"#fff"},{"offset":0.82,"color":"#fff"},
            {"offset":0.82,"color":"#000"},{"offset":0.8255,"color":"#000"},{"offset":0.8255,"color":"#fff"},{"offset":0.83,"color":"#fff"},
            {"offset":0.83,"color":"#000"},{"offset":0.8355,"color":"#000"},{"offset":0.8355,"color":"#fff"},{"offset":0.84,"color":"#fff"},
            {"offset":0.84,"color":"#000"},{"offset":0.8455,"color":"#000"},{"offset":0.8455,"color":"#fff"},{"offset":0.85,"color":"#fff"},
            {"offset":0.85,"color":"#000"},{"offset":0.8555,"color":"#000"},{"offset":0.8555,"color":"#fff"},{"offset":0.86,"color":"#fff"},
            {"offset":0.86,"color":"#000"},{"offset":0.8655,"color":"#000"},{"offset":0.8655,"color":"#fff"},{"offset":0.87,"color":"#fff"},
            {"offset":0.87,"color":"#000"},{"offset":0.8755,"color":"#000"},{"offset":0.8755,"color":"#fff"},{"offset":0.88,"color":"#fff"},
            {"offset":0.88,"color":"#000"},{"offset":0.8855,"color":"#000"},{"offset":0.8855,"color":"#fff"},{"offset":0.89,"color":"#fff"},
            {"offset":0.89,"color":"#000"},{"offset":0.8955,"color":"#000"},{"offset":0.8955,"color":"#fff"},{"offset":0.90,"color":"#fff"},
            {"offset":0.90,"color":"#000"},{"offset":0.9055,"color":"#000"},{"offset":0.9055,"color":"#fff"},{"offset":0.91,"color":"#fff"},
            {"offset":0.91,"color":"#000"},{"offset":0.9155,"color":"#000"},{"offset":0.9155,"color":"#fff"},{"offset":0.92,"color":"#fff"},
            {"offset":0.92,"color":"#000"},{"offset":0.9255,"color":"#000"},{"offset":0.9255,"color":"#fff"},{"offset":0.93,"color":"#fff"},
            {"offset":0.93,"color":"#000"},{"offset":0.9355,"color":"#000"},{"offset":0.9355,"color":"#fff"},{"offset":0.94,"color":"#fff"},
            {"offset":0.94,"color":"#000"},{"offset":0.9455,"color":"#000"},{"offset":0.9455,"color":"#fff"},{"offset":0.95,"color":"#fff"},
            {"offset":0.95,"color":"#000"},{"offset":0.9555,"color":"#000"},{"offset":0.9555,"color":"#fff"},{"offset":0.96,"color":"#fff"},
            {"offset":0.96,"color":"#000"},{"offset":0.9655,"color":"#000"},{"offset":0.9655,"color":"#fff"},{"offset":0.97,"color":"#fff"},
            {"offset":0.97,"color":"#000"},{"offset":0.9755,"color":"#000"},{"offset":0.9755,"color":"#fff"},{"offset":0.98,"color":"#fff"},
            {"offset":0.98,"color":"#000"},{"offset":0.9855,"color":"#000"},{"offset":0.9855,"color":"#fff"},{"offset":0.99,"color":"#fff"},
            {"offset":0.99,"color":"#000"},{"offset":0.9955,"color":"#000"},{"offset":0.9955,"color":"#fff"},{"offset":1,"color":"#fff"}
          ]}},
          "encoding": {
            "x": {"field": "T", "type": "quantitative", "scale": {"domain": [-50, 100], "nice": false, "zero": false}, "axis": null},
            "y": {"field": "v", "type": "quantitative", "scale": {"domain": [0, 100], "nice": false, "zero": false},
                  "axis": {"title": "TCD Signal (a.u.)", "titleFontSize": 100, "titlePadding": 19, "titleY": 678, "ticks": false, "labels": false, "domain": false, "grid": false}},
            "y2": {"field": "base"},
            "color": {"field": "series", "type": "nominal", "scale": {"domain": ["Pd3-TA", "Re5Pd3-SI", "Pd3Re5-SI*", "Re5Pd1.5-DCS", "Re10Pd3-SI"], "range": ["#000000", "#0000ff", "#ff0000", "#800080", "#008000"]}}
          }
        },
        {
          "mark": {"type": "rule", "color": "black", "strokeWidth": 5},
          "encoding": {
            "y": {"datum": 40.8, "type": "quantitative", "scale": {"domain": [0, 100], "nice": false, "zero": false},
                  "axis": {"title": "TCD Signal (a.u.)", "titleFontSize": 100, "titlePadding": 19, "titleY": 678, "ticks": false, "labels": false, "domain": false, "grid": false}}
          }
        },
        {
          "data": {"name": "axis_major"},
          "mark": {"type": "text", "font": "DejaVu Sans Mono", "fontSize": 21.5, "align": "left", "dx": -3.2, "baseline": "bottom", "color": "black"},
          "encoding": {
            "x": {"field": "T", "type": "quantitative", "scale": {"domain": [-50, 100], "nice": false, "zero": false}, "axis": null},
            "y": {"field": "v", "type": "quantitative", "scale": {"domain": [0, 100], "nice": false, "zero": false},
                  "axis": {"title": "TCD Signal (a.u.)", "titleFontSize": 100, "titlePadding": 19, "titleY": 678, "ticks": false, "labels": false, "domain": false, "grid": false}},
            "text": {"value": "\u258c"}
          }
        },
        {
          "data": {"name": "axis_minor"},
          "mark": {"type": "text", "font": "DejaVu Sans Mono", "fontSize": 21.5, "align": "left", "dx": -3.2, "baseline": "bottom", "color": "black"},
          "encoding": {
            "x": {"field": "T", "type": "quantitative", "scale": {"domain": [-50, 100], "nice": false, "zero": false}, "axis": null},
            "y": {"field": "v", "type": "quantitative", "scale": {"domain": [0, 100], "nice": false, "zero": false},
                  "axis": {"title": "TCD Signal (a.u.)", "titleFontSize": 100, "titlePadding": 19, "titleY": 678, "ticks": false, "labels": false, "domain": false, "grid": false}},
            "text": {"value": "\u2596"}
          }
        },
        {
          "data": {"name": "b_lines"},
          "mark": {"type": "line", "strokeWidth": 6, "strokeJoin": "round", "strokeCap": "round"},
          "encoding": {
            "x": {"field": "T", "type": "quantitative", "scale": {"domain": [-50, 100], "nice": false, "zero": false},
                  "axis": {"orient": "bottom", "values": [-50, -25, 0, 25, 50, 75, 100], "ticks": false, "tickSize": 0, "domain": false, "labelFontSize": 70, "labelPadding": 20, "labelFlush": false, "labelOverlap": false, "labelExpr": "replace(datum.label, '\u2212', '-')", "title": "Temperature (°C)", "titleFontSize": 100, "titlePadding": 17}},
            "y": {"field": "v", "type": "quantitative", "scale": {"domain": [0, 100], "nice": false, "zero": false},
                  "axis": {"title": "TCD Signal (a.u.)", "titleFontSize": 100, "titlePadding": 19, "titleY": 678, "ticks": false, "labels": false, "domain": false, "grid": false}},
            "color": {"field": "series", "type": "nominal",
                      "scale": {"domain": ["Pd3-TA", "Re5Pd3-SI", "Pd3Re5-SI*", "Re5Pd1.5-DCS", "Re10Pd3-SI"], "range": ["#000000", "#0000ff", "#ff0000", "#800080", "#008000"]},
                      "legend": {"title": null, "orient": "none", "legendX": 83, "legendY": 924, "padding": 12, "strokeColor": "black", "fillColor": "white", "labelFontSize": 74, "labelLimit": 2000, "symbolSize": 4096, "labelOffset": 112, "rowPadding": 16,
                                 "encode": {
                                   "legend": {"update": {"strokeWidth": {"value": 3}}},
                                   "symbols": {"update": {
                                     "shape": {"signal": "datum.value === 'Pd3-TA' ? 'M-1.315,-1.28H3.935V1.28H-1.315ZM-1.22,-1.185V1.185H3.84V-1.185ZM-1.22,-0.72L-0.755,-1.185L-0.415,-1.185L-1.22,-0.38ZM-1.22,-0.03L-0.065,-1.185L0.275,-1.185L-1.22,0.31ZM-1.22,0.66L0.625,-1.185L0.965,-1.185L-1.22,1ZM-1.055,1.185L1.315,-1.185L1.655,-1.185L-0.715,1.185ZM-0.365,1.185L2.005,-1.185L2.345,-1.185L-0.025,1.185ZM0.325,1.185L2.695,-1.185L3.035,-1.185L0.665,1.185ZM1.015,1.185L3.385,-1.185L3.725,-1.185L1.355,1.185ZM1.705,1.185L3.84,-0.95L3.84,-0.61L2.045,1.185ZM2.395,1.185L3.84,-0.26L3.84,0.08L2.735,1.185ZM3.085,1.185L3.84,0.43L3.84,0.77L3.425,1.185Z' : 'M-1.31,0H3.94'"},
                                     "strokeWidth": {"signal": "datum.value === 'Pd3-TA' ? 0.5 : 7"},
                                     "opacity": {"value": 1},
                                     "fill": {"value": "black"},
                                     "fillOpacity": {"value": 1}
                                   }}
                                 }}}
          }
        },
        {
          "data": {"name": "b_tag"},
          "mark": {"type": "text", "fontSize": 200, "fontWeight": "bold", "align": "center", "baseline": "alphabetic"},
          "encoding": {
            "x": {"field": "T", "type": "quantitative", "scale": {"domain": [-50, 100], "nice": false, "zero": false}, "axis": null},
            "y": {"field": "v", "type": "quantitative", "scale": {"domain": [0, 100], "nice": false, "zero": false},
                  "axis": {"title": "TCD Signal (a.u.)", "titleFontSize": 100, "titlePadding": 19, "titleY": 678, "ticks": false, "labels": false, "domain": false, "grid": false}},
            "text": {"field": "label"}
          }
        }
      ],
      "resolve": {"axis": {"x": "independent"}}
    }
  ]
}
